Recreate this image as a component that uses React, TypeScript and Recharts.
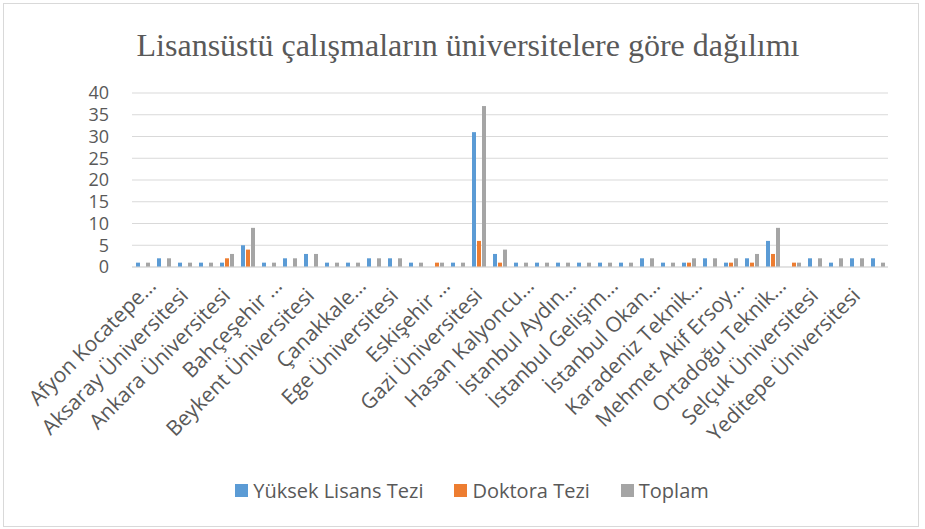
import React from 'react';
import { BarChart, Bar, XAxis, YAxis, CartesianGrid, Legend } from 'recharts';

const categories = [
  'Afyon Kocatepe…', 'Akdeniz Üniversitesi', 'Aksaray Üniversitesi', 'Anadolu Üniversitesi',
  'Ankara Üniversitesi', 'Atatürk Üniversitesi', 'Bahçeşehir …', 'Başkent Üniversitesi',
  'Beykent Üniversitesi', 'Bursa Uludağ…', 'Çanakkale…', 'Dokuz Eylül…',
  'Ege Üniversitesi', 'Erciyes Üniversitesi', 'Eskişehir …', 'Fırat Üniversitesi',
  'Gazi Üniversitesi', 'Hacettepe Üniversitesi', 'Hasan Kalyoncu…', 'İnönü Üniversitesi',
  'İstanbul Aydın…', 'İstanbul Gedik…', 'İstanbul Gelişim…', 'İstanbul Medipol…',
  'İstanbul Okan…', 'İstanbul Üniversitesi', 'Karadeniz Teknik…', 'Marmara Üniversitesi',
  'Mehmet Akif Ersoy…', 'Necmettin Erbakan…', 'Ortadoğu Teknik…', 'Sakarya Üniversitesi',
  'Selçuk Üniversitesi', 'Süleyman Demirel…', 'Yeditepe Üniversitesi', 'Yıldız Teknik…',
];

const yuksekLisans = [1, 2, 1, 1, 1, 5, 1, 2, 3, 1, 1, 2, 2, 1, 0, 1, 31, 3, 1, 1, 1, 1, 1, 1, 2, 1, 1, 2, 1, 2, 6, 0, 2, 1, 2, 2];
const doktora = [0, 0, 0, 0, 2, 4, 0, 0, 0, 0, 0, 0, 0, 0, 1, 0, 6, 1, 0, 0, 0, 0, 0, 0, 0, 0, 1, 0, 1, 1, 3, 1, 0, 0, 0, 0];
const toplam = [1, 2, 1, 1, 3, 9, 1, 2, 3, 1, 1, 2, 2, 1, 1, 1, 37, 4, 1, 1, 1, 1, 1, 1, 2, 1, 2, 2, 2, 3, 9, 1, 2, 2, 2, 1];

const yTicks = [0, 5, 10, 15, 20, 25, 30, 35, 40];

const seriesNames = ['Yüksek Lisans Tezi', 'Doktora Tezi', 'Toplam'];
const seriesColors = ['#5B9BD5', '#ED7D31', '#A5A5A5'];
const seriesKeys = ['yl', 'dr', 'tp'];

const title = 'Lisansüstü çalışmaların üniversitelere göre dağılımı';

const data = categories.map((name, i) => ({
  name,
  yl: yuksekLisans[i],
  dr: doktora[i],
  tp: toplam[i],
}));

const FONT = '"Open Sans", sans-serif';
const TEXT_COLOR = '#595959';

const XTick = (props: any) => {
  const { x, y, payload } = props;
  const label: string = payload.value;
  const truncated = label.endsWith('…');
  const shift = truncated ? 14 : 0;
  const ax = x + 5 + shift * 0.707;
  const ay = y + 22 - shift * 0.707;
  return (
    <text
      x={ax}
      y={ay}
      transform={`rotate(-45, ${ax}, ${ay})`}
      textAnchor="end"
      fill={TEXT_COLOR}
      fontSize={21}
      fontFamily={FONT}
    >
      {label}
    </text>
  );
};

const LegendContent = () => (
  <div
    style={{
      display: 'flex',
      justifyContent: 'center',
      paddingLeft: 19,
      fontFamily: FONT,
      fontSize: 20,
      color: TEXT_COLOR,
      lineHeight: '27px',
    }}
  >
    {seriesNames.map((n, i) => (
      <div key={n} style={{ display: 'flex', alignItems: 'center', marginRight: i < 2 ? 31 : 0 }}>
        <span style={{ display: 'inline-block', width: 13, height: 13, background: seriesColors[i], marginRight: 5 }} />
        <span>{n}</span>
      </div>
    ))}
  </div>
);

export default function App() {
  return (
    <div style={{ position: 'absolute', left: 0, top: 0, width: 925, height: 529, background: '#fff' }}>
      <div
        style={{
          position: 'absolute',
          left: 3,
          top: 3,
          width: 914,
          height: 522,
          border: '1px solid #d9d9d9',
        }}
      />
      <div
        style={{
          position: 'absolute',
          top: 25,
          left: 0,
          width: 925,
          paddingLeft: 11,
          boxSizing: 'border-box',
          textAlign: 'center',
          fontFamily: '"Liberation Serif", serif',
          fontSize: 32,
          lineHeight: '40px',
          color: TEXT_COLOR,
        }}
      >
        {title}
      </div>
      <BarChart
        width={925}
        height={529}
        data={data}
        margin={{ top: 93, right: 37, left: 0, bottom: 0 }}
        barSize={4}
        barGap={1}
      >
        <CartesianGrid vertical={false} stroke="#d9d9d9" />
        <XAxis
          dataKey="name"
          interval={1}
          height={262}
          tickLine={false}
          axisLine={{ stroke: '#d9d9d9' }}
          tick={<XTick />}
        />
        <YAxis
          width={132}
          domain={[0, 40]}
          ticks={yTicks}
          interval={0}
          axisLine={false}
          tickLine={false}
          tickMargin={17}
          tick={{ fill: TEXT_COLOR, fontSize: 18, fontFamily: FONT }}
        />
        <Legend
          verticalAlign="middle"
          align="center"
          layout="horizontal"
          wrapperStyle={{ top: 477, left: 0, width: 925 }}
          content={<LegendContent />}
        />
        {seriesKeys.map((k, i) => (
          <Bar key={k} dataKey={k} name={seriesNames[i]} fill={seriesColors[i]} isAnimationActive={false} />
        ))}
      </BarChart>
    </div>
  );
}
